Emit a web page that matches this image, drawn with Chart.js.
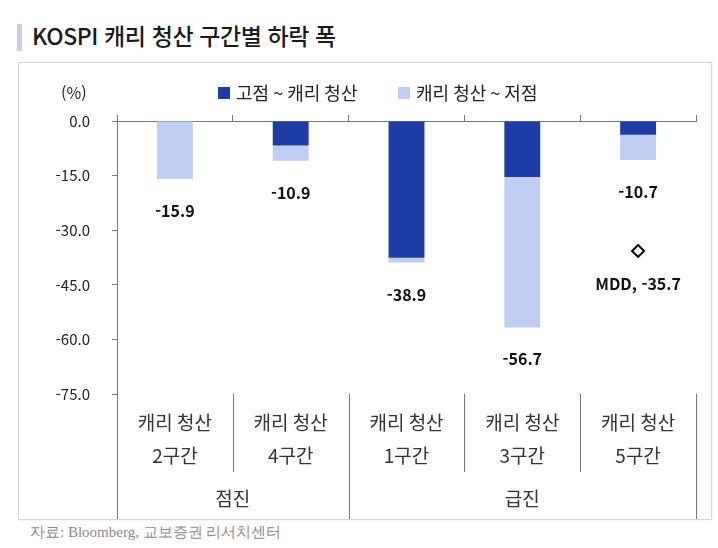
<!DOCTYPE html>
<html lang="ko">
<head>
<meta charset="utf-8">
<script src="https://cdn.jsdelivr.net/npm/chart.js@4"></script>
<style>
  html, body { margin: 0; padding: 0; background: #fff; }
  body { width: 718px; height: 548px; position: relative; overflow: hidden; font-family: 'Noto Sans CJK KR', 'Noto Sans', sans-serif; }
  .accent { position: absolute; left: 17px; top: 24px; width: 5px; height: 27px; background: #c8cee3; }
  .title { position: absolute; left: 32px; top: 18px; font-size: 23px; font-weight: 500; color: #1a1a1a; letter-spacing: -0.4px; }
  .box { position: absolute; left: 18px; top: 62px; width: 692px; height: 456px; border: 1px solid #d6d6d6; box-shadow: 0 0 2px #e4e4e4; }
  .box canvas { position: absolute; left: 0; top: 0; }
  .source { position: absolute; left: 30px; top: 523px; font-size: 15px; color: #8a8a8a; font-family: 'Liberation Serif', 'DejaVu Serif', serif; }
</style>
</head>
<body>
<div class="accent"></div>
<div class="title">KOSPI 캐리 청산 구간별 하락 폭</div>
<div class="box"><canvas id="chart" width="694" height="458"></canvas></div>
<div class="source">자료: Bloomberg, 교보증권 리서치센터</div>
<script>
// Data
const categories = [['캐리 청산', '2구간'], ['캐리 청산', '4구간'], ['캐리 청산', '1구간'], ['캐리 청산', '3구간'], ['캐리 청산', '5구간']];
const groupNames = ['점진', '급진'];
const groupSizes = [2, 3];
const seriesNames = ['고점 ~ 캐리 청산', '캐리 청산 ~ 저점'];
const peakToCarry = [0, -6.7, -37.6, -15.4, -3.8];
const carryToTrough = [-15.9, -4.2, -1.3, -41.3, -6.9];
const mddValues = [null, null, null, null, -35.7];
const mddLabel = 'MDD, -35.7';
const yTicks = [0, -15, -30, -45, -60, -75];

const DARK = '#1e3ca6';
const LIGHT = '#c0cef4';
const FONT = "'Noto Sans CJK KR', 'Noto Sans', sans-serif";

// totals drawn under each bar, the MDD label, legend and the category table below
const annotate = {
  id: 'annotate',
  afterDraw(chart) {
    const { ctx, chartArea, scales } = chart;
    const x = scales.x, y = scales.y;
    ctx.save();

    // totals
    ctx.font = 'bold 16px ' + FONT;
    ctx.fillStyle = '#111';
    ctx.textAlign = 'center';
    ctx.textBaseline = 'middle';
    categories.forEach((c, i) => {
      const total = peakToCarry[i] + carryToTrough[i];
      ctx.fillText(total.toFixed(1), x.getPixelForValue(i), y.getPixelForValue(total) + 32);
    });
    mddValues.forEach((v, i) => {
      if (v === null) return;
      ctx.fillText(mddLabel, x.getPixelForValue(i), y.getPixelForValue(v) + 33);
    });

    // legend
    ctx.font = '16px ' + FONT;
    ctx.textAlign = 'left';
    ctx.fillStyle = '#222';
    ctx.fillText('(%)', 42, 30);
    ctx.font = '18px ' + FONT;
    const legendX = [199, 379];
    [DARK, LIGHT].forEach((col, i) => {
      ctx.fillStyle = col;
      ctx.fillRect(legendX[i], 24, 12, 12);
      ctx.fillStyle = '#222';
      ctx.fillText(seriesNames[i], legendX[i] + 18, 30);
    });

    // category table
    const step = (x.getPixelForValue(1) - x.getPixelForValue(0));
    const bottom = chartArea.bottom;
    ctx.strokeStyle = '#777';
    ctx.lineWidth = 1;
    ctx.fillStyle = '#333';
    ctx.textAlign = 'center';
    ctx.font = '19px ' + FONT;
    categories.forEach((c, i) => {
      const cx = x.getPixelForValue(i);
      ctx.fillText(c[0], cx, bottom + 29);
      ctx.fillText(c[1], cx, bottom + 62);
    });
    let idx = 0;
    const boundaries = [0];
    groupSizes.forEach(n => { idx += n; boundaries.push(idx); });
    for (let i = 1; i < categories.length; i++) {
      const bx = Math.round(x.getPixelForValue(i) - step / 2) + 0.5;
      const isGroup = boundaries.includes(i);
      ctx.beginPath();
      ctx.moveTo(bx, bottom);
      ctx.lineTo(bx, isGroup ? 456 : bottom + 78);
      ctx.stroke();
    }
    [chartArea.left, chartArea.right].forEach(px => {
      const bx = Math.round(px) + 0.5;
      ctx.beginPath();
      ctx.moveTo(bx, bottom);
      ctx.lineTo(bx, 456);
      ctx.stroke();
    });
    groupNames.forEach((g, k) => {
      const a = boundaries[k], b = boundaries[k + 1] - 1;
      const cx = (x.getPixelForValue(a) + x.getPixelForValue(b)) / 2;
      ctx.fillText(g, cx, bottom + 105);
    });
    ctx.restore();
  }
};

new Chart(document.getElementById('chart'), {
  type: 'bar',
  data: {
    labels: categories.map(c => c.join(' ')),
    datasets: [
      { label: seriesNames[0], data: peakToCarry, backgroundColor: DARK, barPercentage: 0.62, categoryPercentage: 0.5, order: 2 },
      { label: seriesNames[1], data: carryToTrough, backgroundColor: LIGHT, barPercentage: 0.62, categoryPercentage: 0.5, order: 2 },
      { type: 'line', label: 'MDD', data: mddValues, showLine: false, pointStyle: 'rectRot', pointRadius: 6, pointBackgroundColor: '#fff', pointBorderColor: '#000', pointBorderWidth: 2, order: 1 }
    ]
  },
  options: {
    responsive: false,
    animation: false,
    layout: { padding: { left: 0, top: 50, right: 17, bottom: 127 } },
    plugins: { legend: { display: false }, tooltip: { enabled: false } },
    scales: {
      x: {
        position: 'top',
        stacked: true,
        grid: { drawOnChartArea: false, drawTicks: true, tickLength: 6, color: '#777', offset: true },
        border: { color: '#777' },
        ticks: { display: false },
        afterFit(s) { s.height = 8; }
      },
      y: {
        stacked: true,
        min: -75,
        max: 0,
        afterBuildTicks(s) { s.ticks = yTicks.map(v => ({ value: v })); },
        grid: { drawOnChartArea: false, drawTicks: true, tickLength: 5, color: '#777' },
        border: { color: '#777' },
        ticks: { color: '#222', padding: 22, font: { family: FONT, size: 15 }, callback: v => v.toFixed(1) },
        afterFit(s) { s.width = 98; }
      }
    }
  },
  plugins: [annotate]
});
</script>
</body>
</html>
